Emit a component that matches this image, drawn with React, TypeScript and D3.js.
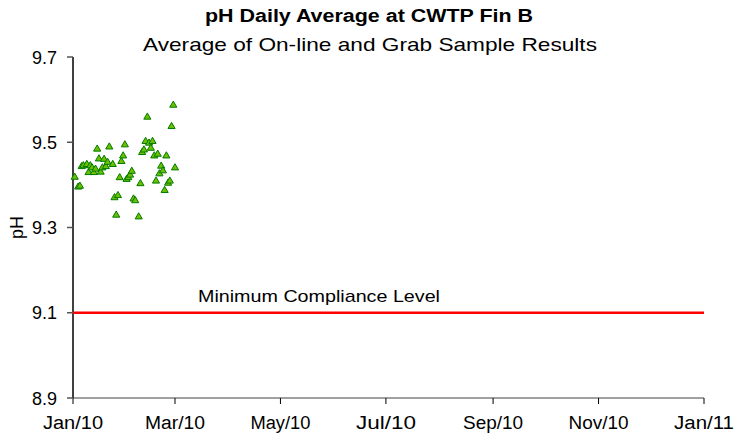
import React from "react";
import * as d3 from "d3";

const dates: string[] = [
  "2010-01-02","2010-01-04","2010-01-05","2010-01-06","2010-01-07","2010-01-09","2010-01-10","2010-01-11",
  "2010-01-12","2010-01-13","2010-01-14","2010-01-15","2010-01-16","2010-01-17","2010-01-18","2010-01-19",
  "2010-01-20","2010-01-21","2010-01-22","2010-01-24","2010-01-25","2010-01-26","2010-01-27","2010-01-28",
  "2010-01-29","2010-01-30","2010-01-31","2010-02-01","2010-02-02","2010-02-03","2010-02-04","2010-02-05",
  "2010-02-06","2010-02-08","2010-02-09","2010-02-10","2010-02-11","2010-02-12","2010-02-13","2010-02-14",
  "2010-02-15","2010-02-16","2010-02-17","2010-02-18","2010-02-19","2010-02-20","2010-02-21","2010-02-22",
  "2010-02-23","2010-02-24","2010-02-25","2010-02-26","2010-02-27","2010-02-28","2010-03-01",
];
const phValues: number[] = [
  9.418, 9.395, 9.397, 9.443, 9.445, 9.448, 9.429, 9.445,
  9.440, 9.429, 9.437, 9.484, 9.461, 9.430, 9.440, 9.460,
  9.443, 9.453, 9.489, 9.448, 9.370, 9.329, 9.375, 9.417,
  9.455, 9.468, 9.494, 9.413, 9.417, 9.423, 9.432, 9.367,
  9.363, 9.325, 9.403, 9.476, 9.482, 9.502, 9.559, 9.498,
  9.486, 9.502, 9.468, 9.409, 9.472, 9.426, 9.444, 9.433,
  9.387, 9.468, 9.404, 9.409, 9.537, 9.587, 9.440,
];
const yTicks: number[] = [8.9, 9.1, 9.3, 9.5, 9.7];
const complianceLevel = 9.1;
const title = "pH Daily Average at CWTP Fin B";
const subtitle = "Average of On-line and Grab Sample Results";
const complianceLabel = "Minimum Compliance Level";
const yLabel = "pH";

const W = 737, H = 434;
const left = 73, right = 704, top = 57, bottom = 398;
const FONT = "'Liberation Sans', Arial, sans-serif";

export default function App() {
  const x = d3.scaleUtc()
    .domain([new Date(Date.UTC(2010, 0, 1)), new Date(Date.UTC(2011, 0, 1))])
    .range([left, right]);
  const y = d3.scaleLinear().domain([8.9, 9.7]).range([bottom, top]);
  const xTicks = x.ticks(d3.utcMonth.every(2)!);
  const fmt = d3.utcFormat("%b/%y");
  const tri = d3.symbol(d3.symbolTriangle, 22)()!;
  const parse = d3.utcParse("%Y-%m-%d");

  return (
    <svg width={W} height={H} style={{ position: "absolute", left: 0, top: 0, display: "block", background: "#fff" }} fontFamily={FONT}>
      <text x={369} y={22} textAnchor="middle" fontWeight="bold" fontSize={18} textLength={328} lengthAdjust="spacingAndGlyphs">{title}</text>
      <text x={370} y={51} textAnchor="middle" fontSize={19} textLength={454} lengthAdjust="spacingAndGlyphs">{subtitle}</text>

      {/* bottom axis line */}
      <line x1={left} x2={right} y1={bottom} y2={bottom} stroke="#808080" strokeWidth={1.5} />
      {xTicks.map((t, i) => (
        <g key={i}>
          <line x1={x(t)} x2={x(t)} y1={bottom} y2={bottom + 6} stroke="#000" strokeWidth={1} />
          <text x={x(t)} y={429} textAnchor="middle" fontSize={18} textLength={60} lengthAdjust="spacingAndGlyphs">{fmt(t)}</text>
        </g>
      ))}

      {/* y axis */}
      <line x1={left} x2={left} y1={top} y2={bottom} stroke="#000" strokeWidth={1.5} />
      {yTicks.map((v, i) => (
        <g key={i}>
          <line x1={left - 6} x2={left} y1={y(v)} y2={y(v)} stroke="#555" strokeWidth={1.5} />
          <text x={57} y={y(v) + 6.5} textAnchor="end" fontSize={18}>{v.toFixed(1)}</text>
        </g>
      ))}
      <text transform={`translate(23,${(top + bottom) / 2}) rotate(-90)`} textAnchor="middle" fontSize={18}>{yLabel}</text>

      {/* compliance line */}
      <line x1={left} x2={right} y1={y(complianceLevel)} y2={y(complianceLevel)} stroke="#ff0000" strokeWidth={2.5} />
      <text x={198} y={302} fontSize={17} textLength={242} lengthAdjust="spacingAndGlyphs">{complianceLabel}</text>

      {dates.map((d, i) => (
        <path key={i} d={tri} transform={`translate(${x(parse(d)!)},${y(phValues[i])})`} fill="#6cc000" stroke="#007a00" strokeWidth={1} />
      ))}
    </svg>
  );
}
